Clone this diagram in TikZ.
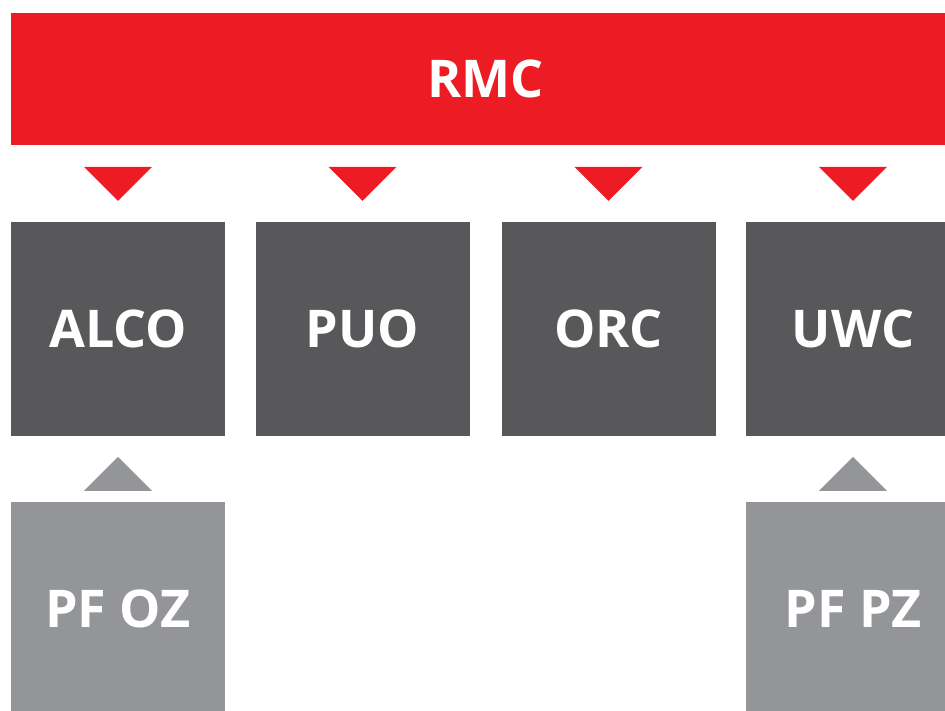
\documentclass[tikz,border=0pt]{standalone}
\usepackage{fontspec}
\setmainfont{Open Sans}
\usetikzlibrary{calc}
\definecolor{rmcred}{HTML}{ED1C24}
\definecolor{darkbox}{HTML}{58585A}
\definecolor{lightbox}{HTML}{939598}
\begin{document}
\begin{tikzpicture}[x=1pt,y=-1pt,
  lbl/.style={text=white,font=\fontsize{52}{52}\selectfont\bfseries,inner sep=0pt},
  topbar/.style={fill=rmcred,lbl,minimum width=949pt,minimum height=132pt},
  unit/.style={fill=darkbox,lbl,minimum width=214pt,minimum height=214pt},
  feeder/.style={fill=lightbox,lbl,minimum width=214pt,minimum height=214pt},
  downtri/.style={fill=rmcred},
  uptri/.style={fill=lightbox}]
\useasboundingbox (0,0) rectangle (945,711);
\begin{scope}
\clip (0,0) rectangle (945,711);
\node[topbar] (rmc) at (485.5,79) {RMC};
\node[unit] (alco) at (118,329) {ALCO};
\node[unit] (puo) at (362.5,329) {PUO};
\node[unit] (orc) at (608.5,329) {ORC};
\node[unit] (uwc) at (853,329) {UWC};
\node[feeder] (pfoz) at (118,609) {PF OZ};
\node[feeder] (pfpz) at (853,609) {PF PZ};
\foreach \b in {alco,puo,orc,uwc}{
  \fill[downtri] ($(\b.north)+(-34,-55)$) -- ($(\b.north)+(34,-55)$) -- ($(\b.north)+(0,-21)$) -- cycle;
}
\foreach \b in {pfoz,pfpz}{
  \fill[uptri] ($(\b.north)+(-34,-11)$) -- ($(\b.north)+(34,-11)$) -- ($(\b.north)+(0,-45)$) -- cycle;
}
\end{scope}
\end{tikzpicture}
\end{document}
